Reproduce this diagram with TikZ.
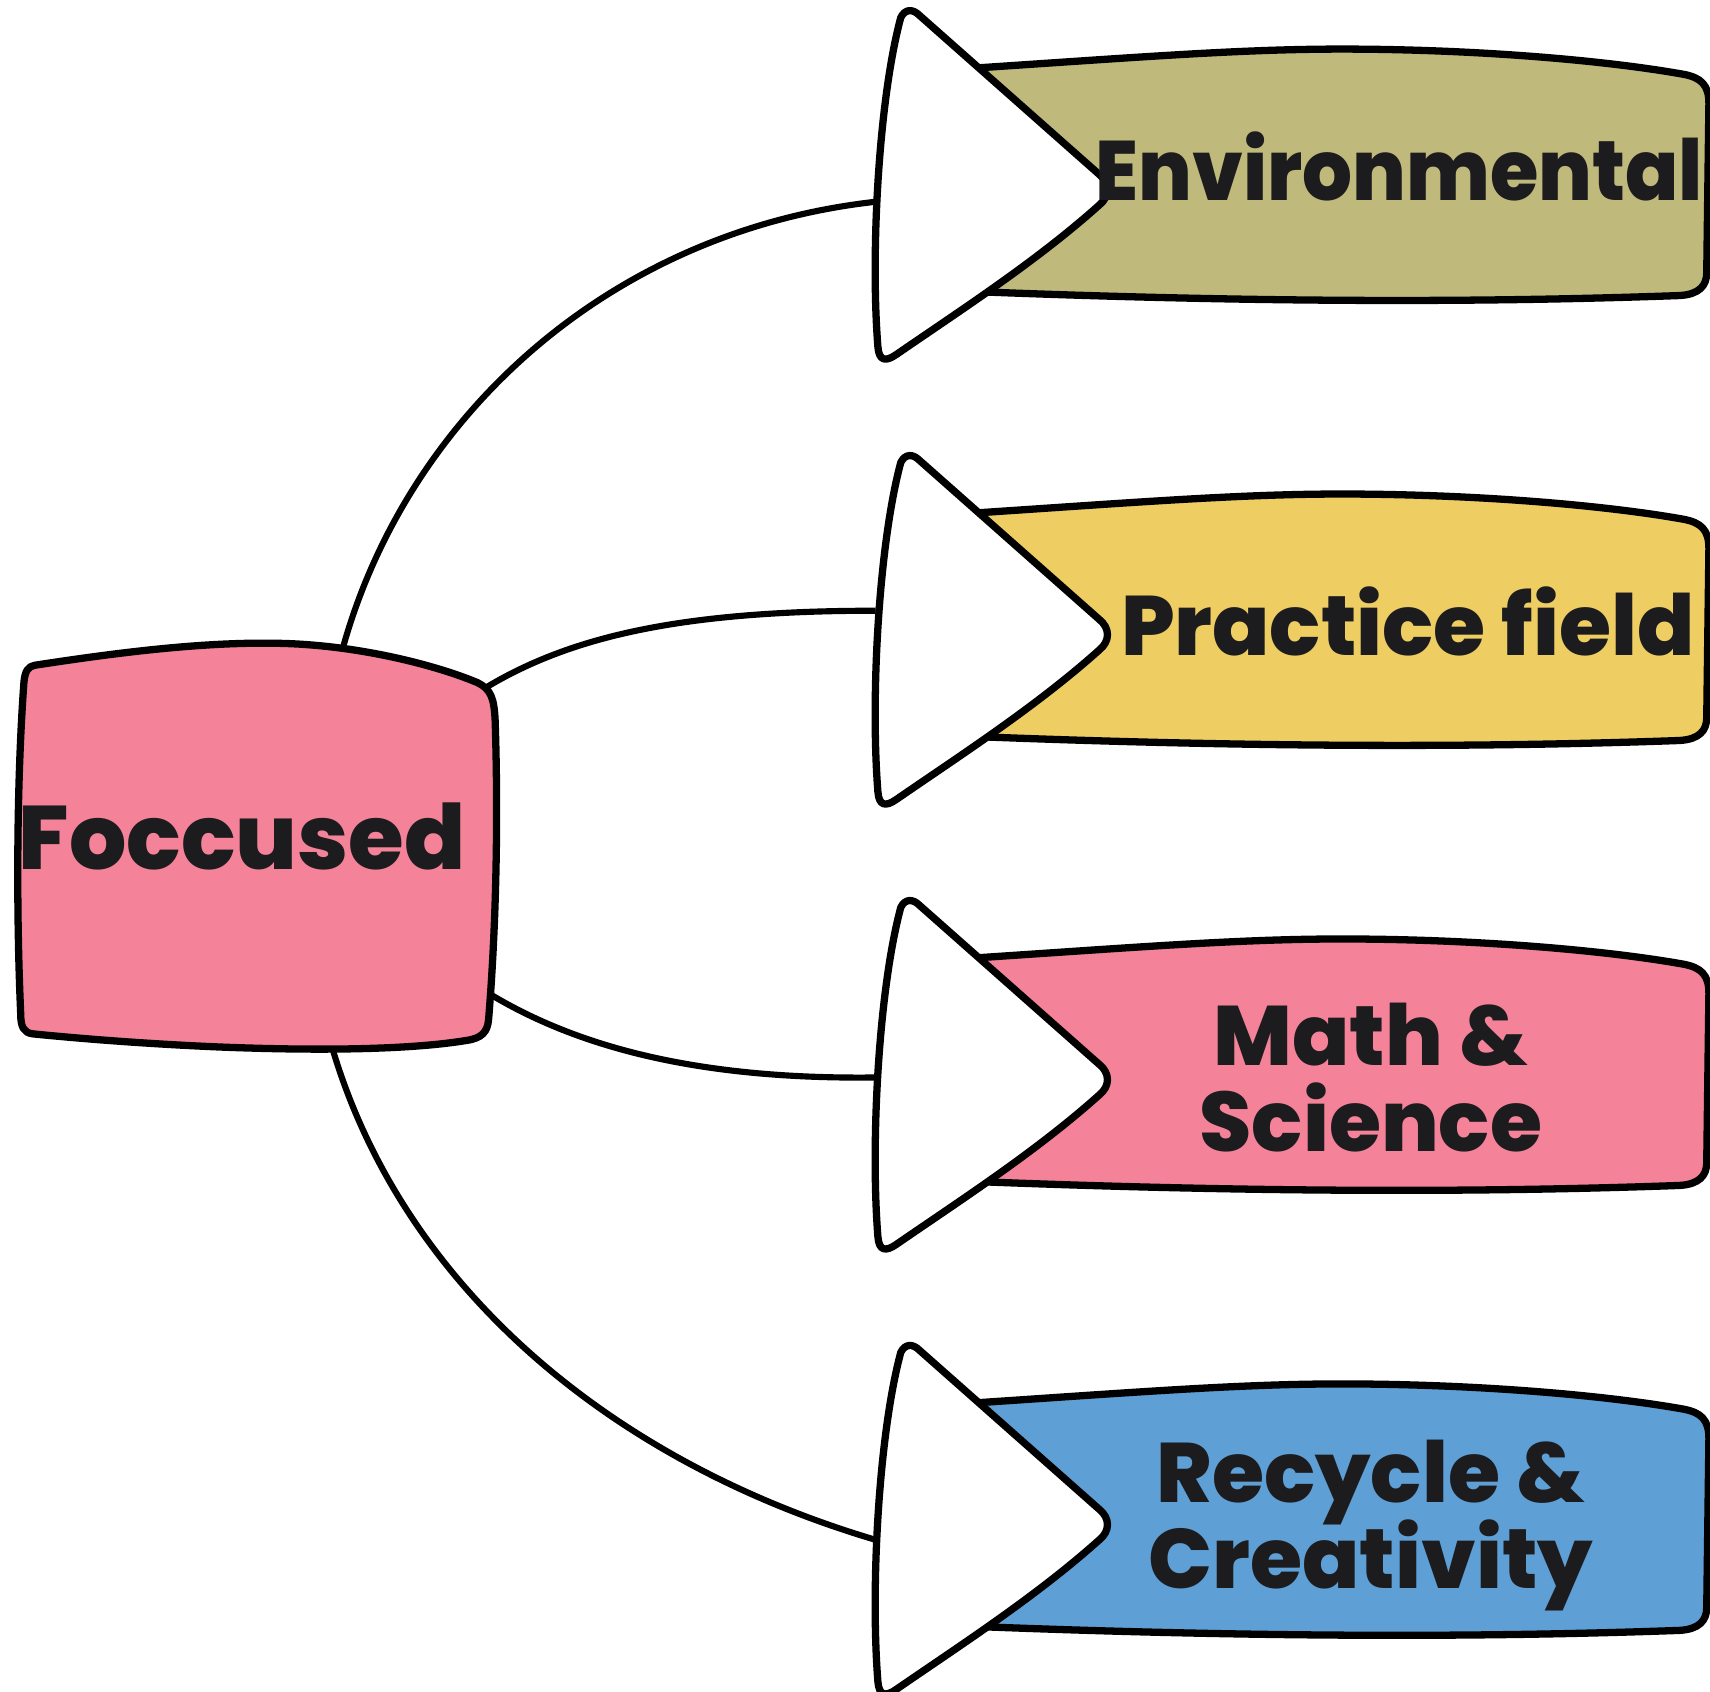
\documentclass[tikz,border=0pt]{standalone}
\usepackage{fontspec}
\setmainfont{Poppins}[BoldFont={* ExtraBold}]
\definecolor{envcol}{HTML}{BFB97B}
\definecolor{praccol}{HTML}{EECD63}
\definecolor{mathcol}{HTML}{F48399}
\definecolor{recycol}{HTML}{5E9FD6}
\definecolor{ink}{HTML}{1C1B1D}
\newcommand{\lblfont}{\fontsize{22}{22.3}\selectfont\bfseries\lineskiplimit=-50pt\relax}
\tikzset{
	rim/.style={draw=black, line width=1.9pt, line join=round},
	link/.style={draw=black, line width=1.6pt},
	lbl/.style={font=\lblfont, text=ink, align=center, inner sep=0pt},
}
\newcommand{\banner}[2]{%
	\begin{scope}[shift={(0,#1)}]
		\path[rim, fill=#2] (860,66) -- (900,62) .. controls (1050,52) and (1140,45) .. (1230,45) .. controls (1350,45) and (1470,55) .. (1543,68) .. controls (1560,71) and (1567,78) .. (1567,95) -- (1565,250) .. controls (1565,262) and (1558,270) .. (1540,271) .. controls (1400,276) and (1200,279) .. (910,268) -- (860,266) -- cycle;
		\path[rim, fill=white] (826,16) .. controls (830,8) and (837,8) .. (843,14) -- (1008,160) .. controls (1018,168) and (1018,180) .. (1008,188) .. controls (950,240) and (880,285) .. (822,325) .. controls (812,332) and (806,331) .. (805,318) .. controls (798,230) and (806,90) .. (826,16) -- cycle;
	\end{scope}}
\begin{document}
\begin{tikzpicture}[x=0.01cm, y=-0.01cm]
	\useasboundingbox (0,0) rectangle (1568,1551);
	\coordinate (F_1) at (315,592);
	\coordinate (F_2) at (443,632);
	\coordinate (F_3) at (450,912);
	\coordinate (F_4) at (305,962);
	\coordinate (A_1) at (803,185);
	\coordinate (A_2) at (803,560);
	\coordinate (A_3) at (803,988);
	\coordinate (A_4) at (803,1412);
	\draw[link] (F_1) .. controls (375,380) and (560,212) .. (A_1);
	\draw[link] (F_2) .. controls (520,585) and (620,560) .. (A_2);
	\draw[link] (F_3) .. controls (530,960) and (640,990) .. (A_3);
	\draw[link] (F_4) .. controls (370,1180) and (560,1340) .. (A_4);
	\path[rim, fill=mathcol] (32,610) .. controls (110,598) and (190,588) .. (260,590) .. controls (330,592) and (400,610) .. (438,626) .. controls (450,632) and (453,640) .. (454,660) .. controls (457,750) and (455,850) .. (448,935) .. controls (447,946) and (442,952) .. (428,954) .. controls (380,962) and (300,964) .. (200,960) .. controls (130,957) and (70,952) .. (30,948) .. controls (22,947) and (19,942) .. (19,930) .. controls (15,840) and (15,720) .. (22,625) .. controls (23,615) and (26,611) .. (32,610) -- cycle;
	\banner{0}{envcol}
	\banner{408}{praccol}
	\banner{816}{mathcol}
	\banner{1224}{recycol}
	\node[lbl, font=\fontsize{23.5}{22}\selectfont\bfseries] (foc) at (222,767) {Foccused};
	\node[lbl] (env) at (1283,153) {\scalebox{0.93}[1]{Environmental}};
	\node[lbl] (prac) at (1291,570) {Practice field};
	\node[lbl] (math) at (1257,988) {Math \&\\Science};
	\node[lbl] (recy) at (1257,1399) {Recycle \&\\Creativity};
\end{tikzpicture}
\end{document}
